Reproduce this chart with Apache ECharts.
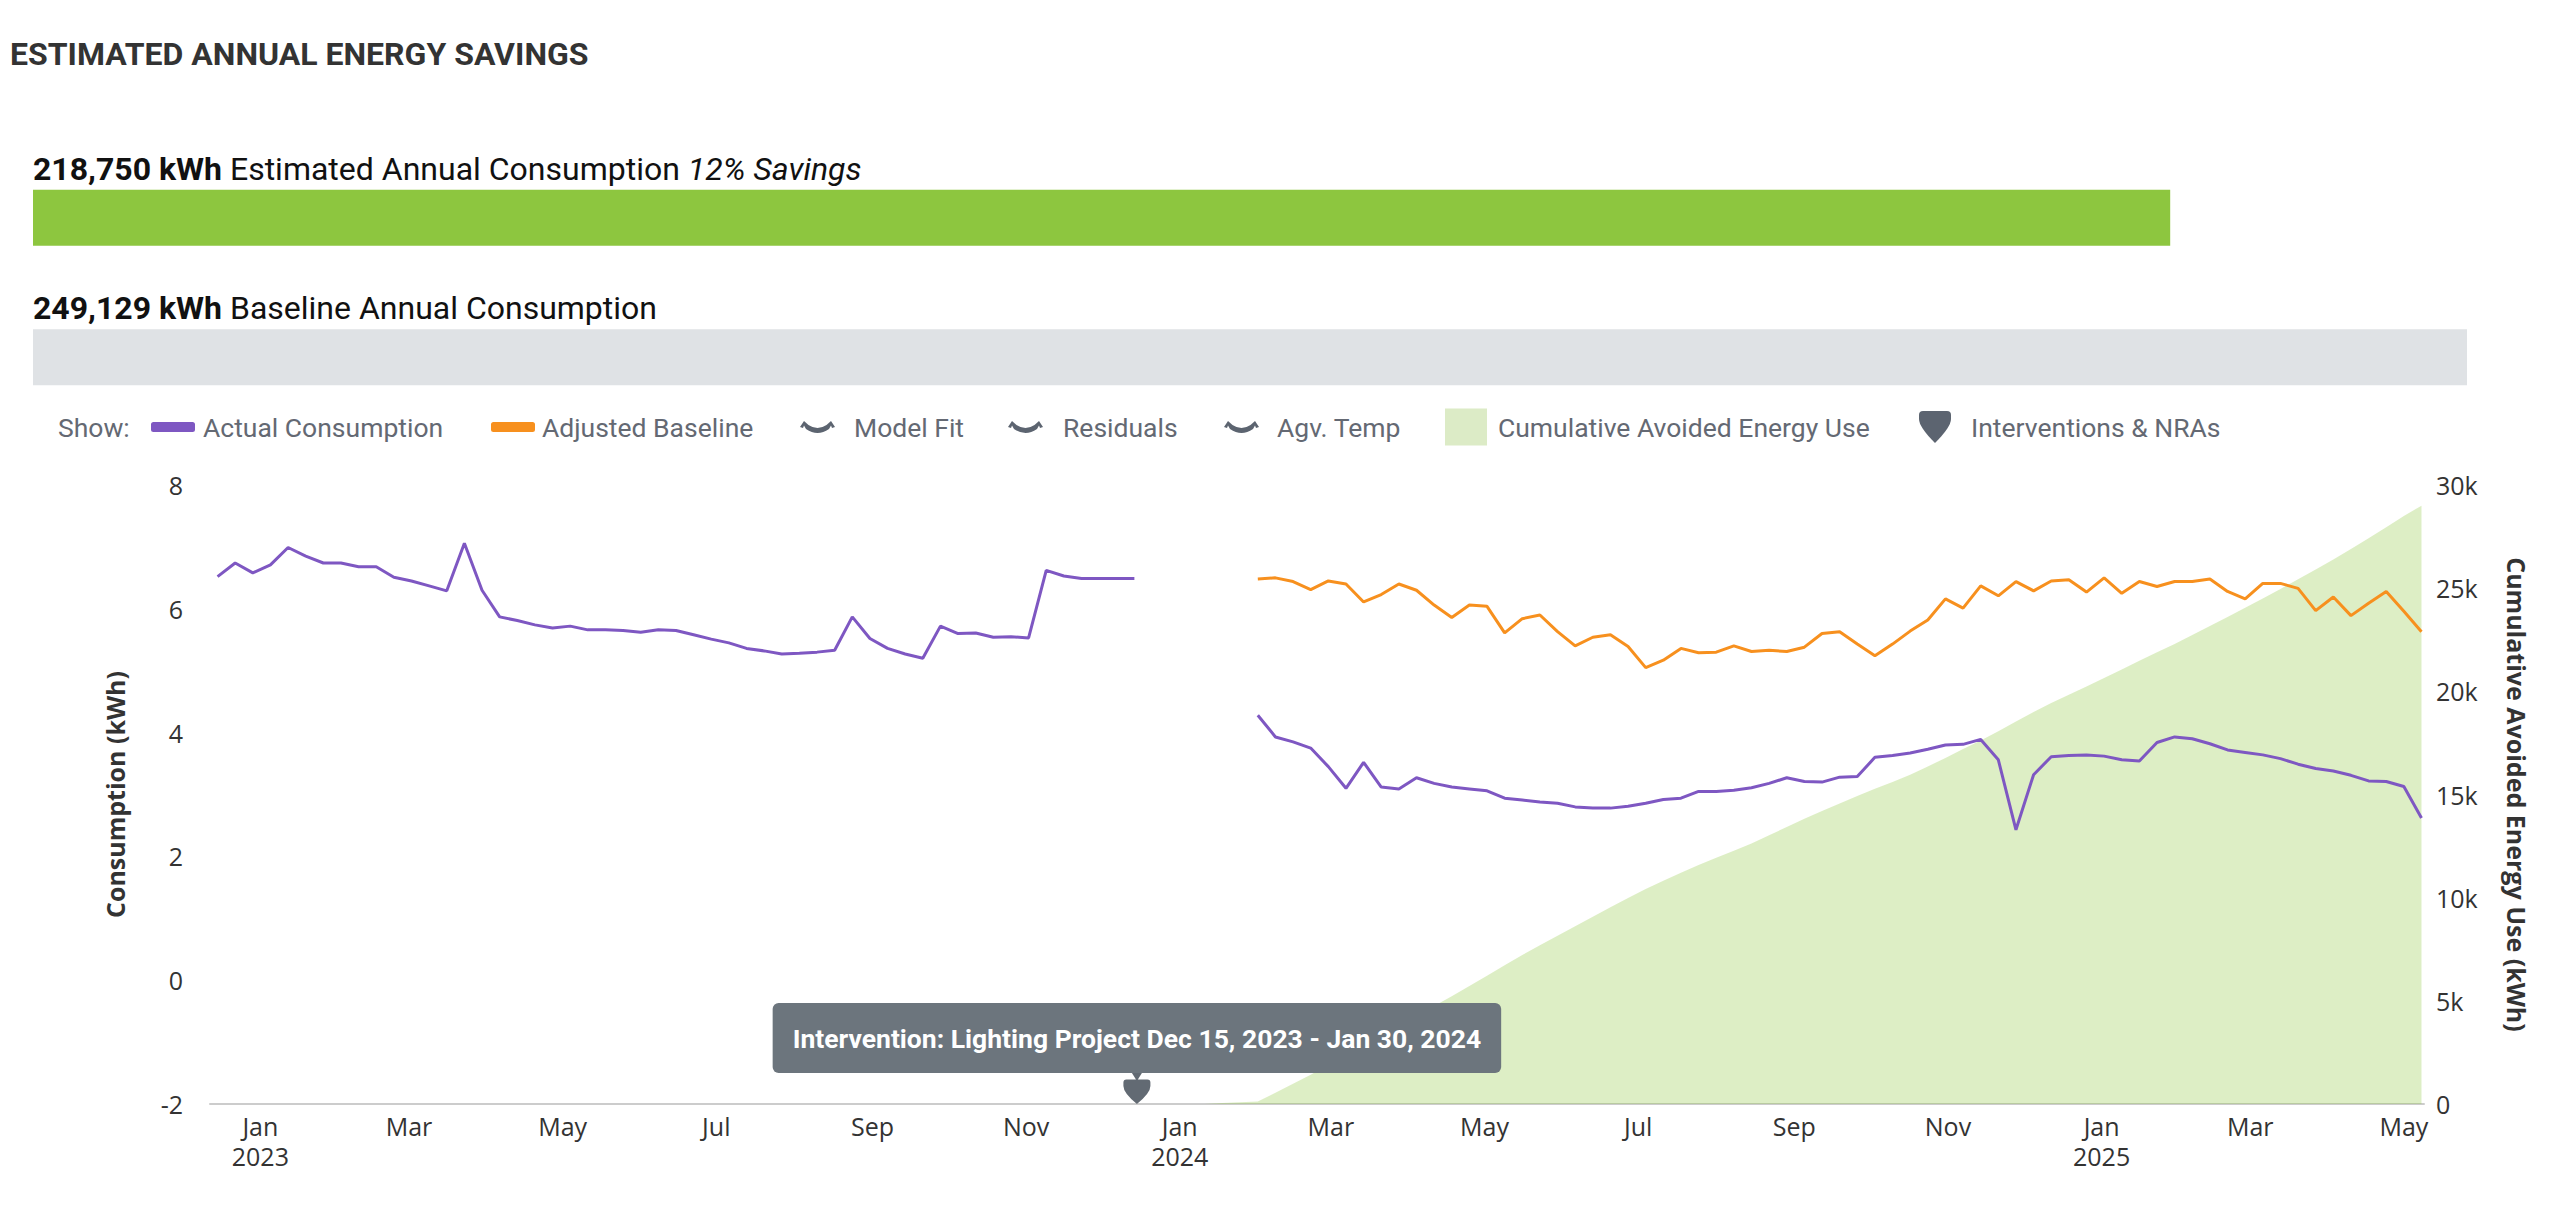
<!DOCTYPE html>
<html>
<head>
<meta charset="utf-8">
<script src="https://cdn.jsdelivr.net/npm/echarts@6/dist/echarts.min.js"></script>
<style>
html,body{margin:0;padding:0;background:#ffffff;}
#chart{width:2550px;height:1220px;}
</style>
</head>
<body>
<div id="chart"></div>
<script>
// ---------------- DATA ----------------
const estimatedAnnualKWh = 218750;
const baselineAnnualKWh = 249129;

// weekly readings (kWh), before the intervention, starting 2022-12-15
const actualBeforeStart = '2022-12-15';
const actualBefore = [
  6.52,6.74,6.58,6.71,6.99,6.85,6.74,6.74,6.68,6.68,
  6.51,6.45,6.37,6.29,7.06,6.30,5.87,5.81,5.74,5.69,
  5.72,5.66,5.66,5.65,5.62,5.66,5.65,5.58,5.51,5.45,
  5.36,5.32,5.27,5.28,5.30,5.33,5.87,5.52,5.36,5.27,
  5.20,5.72,5.60,5.61,5.54,5.55,5.53,6.62,6.53,6.49,
  6.49,6.49,6.49
];

// weekly readings after the intervention, starting 2024-02-01
const reportingStart = '2024-02-01';
const actualAfter = [
  4.28,3.93,3.85,3.75,3.45,3.10,3.52,3.12,3.09,3.27,
  3.18,3.12,3.09,3.06,2.94,2.91,2.88,2.86,2.80,2.78,
  2.78,2.81,2.86,2.92,2.94,3.05,3.05,3.07,3.11,3.18,
  3.27,3.21,3.20,3.28,3.29,3.60,3.63,3.67,3.73,3.80,
  3.81,3.89,3.56,2.43,3.32,3.61,3.63,3.64,3.62,3.56,
  3.54,3.84,3.93,3.90,3.82,3.72,3.68,3.64,3.58,3.49,
  3.42,3.38,3.31,3.22,3.21,3.13,2.62
];
const adjustedBaseline = [
  6.48,6.50,6.44,6.31,6.45,6.40,6.11,6.23,6.40,6.30,
  6.06,5.86,6.06,6.04,5.61,5.84,5.90,5.63,5.40,5.54,
  5.58,5.39,5.05,5.17,5.36,5.29,5.30,5.40,5.31,5.33,
  5.31,5.38,5.60,5.63,5.43,5.24,5.43,5.64,5.82,6.16,
  6.01,6.37,6.21,6.44,6.29,6.45,6.47,6.27,6.50,6.25,
  6.44,6.36,6.44,6.44,6.48,6.28,6.16,6.41,6.41,6.33,
  5.97,6.19,5.89,6.09,6.28,5.96,5.63
];

// cumulative avoided energy use (kWh), weekly from 2024-01-11
const cumulativeStart = '2024-01-11';
const cumulativeAvoided = [
  0,50,80,120,550,980,1420,1900,2370,2840,
  3330,3800,4270,4750,5220,5720,6220,6730,7220,7690,
  8150,8620,9080,9540,9980,10420,10820,11210,11580,11930,
  12270,12620,13020,13430,13830,14200,14560,14930,15280,15600,
  15960,16360,16770,17200,17620,18070,18540,19000,19430,19830,
  20240,20650,21060,21480,21900,22300,22730,23170,23600,24050,
  24500,24960,25430,25900,26390,26900,27420,27950,28500,29000
];

const interventionDate = '2023-12-15';
const interventionText = 'Intervention: Lighting Project Dec 15, 2023 - Jan 30, 2024';

const axisStart = '2022-12-12';
const axisEnd = '2025-05-09';
const monthTicks = ['2023-01-01','2023-03-01','2023-05-01','2023-07-01','2023-09-01','2023-11-01',
  '2024-01-01','2024-03-01','2024-05-01','2024-07-01','2024-09-01','2024-11-01',
  '2025-01-01','2025-03-01','2025-05-01'];
const monthNames = ['Jan','Feb','Mar','Apr','May','Jun','Jul','Aug','Sep','Oct','Nov','Dec'];
const consumptionTicks = [-2, 8, 2];      // min, max, step
const cumulativeTicks = [0, 30000, 5000]; // min, max, step

// ---------------- BUILD ----------------
const DAY = 86400000;
const ts = s => new Date(s + 'T00:00:00Z').getTime();
const weekly = (start, arr) => arr.map((v, i) => [ts(start) + i * 7 * DAY, v]);

const actualSeriesData = weekly(actualBeforeStart, actualBefore)
  .concat([[ts(actualBeforeStart) + actualBefore.length * 7 * DAY, null]])
  .concat(weekly(reportingStart, actualAfter));

const savingsPct = Math.round((1 - estimatedAnnualKWh / baselineAnnualKWh) * 100);
const fmt = n => n.toLocaleString('en-US');

const PURPLE = '#7e57c2';
const ORANGE = '#f7901e';
const GREEN_BAR = '#8dc63f';
const AREA = 'rgba(141,198,63,0.3)';
const GRAY_ICON = '#5c6470';
const TEXT_GRAY = '#646973';
const lashes = 'path://M0 6 L4 0 L8.5 4 Q17.5 10 26.5 4 L31 0 L35 6 L32 7 L31 4.5 L29 8 Q17.5 16 6 8 L4 4.5 L3 7 Z';
const shield = 'path://M4 0 L28 0 Q32 0 32 4 L32 8 Q32 16 16 32 Q0 16 0 8 L0 4 Q0 0 4 0 Z';
const pin = 'path://M8.5 0 L18.5 0 L13.5 8 Z M3 6.5 L24 6.5 Q27 6.5 27 9.5 L27 13 Q27 20 13.5 31 Q0 20 0 13 L0 9.5 Q0 6.5 3 6.5 Z';

const legendText = {fontFamily: 'Roboto', fontSize: 26.5, color: TEXT_GRAY, lineHeight: 40};
function legend(name, left, w, h, icon, color, pad) {
  return {
    left: left, top: 407, padding: 0, itemGap: 0, selectedMode: false,
    itemWidth: w, itemHeight: h,
    itemStyle: {borderWidth: 0},
    textStyle: Object.assign({}, legendText, {padding: [0, 0, 0, pad]}),
    data: [{name: name, icon: icon, itemStyle: {color: color, borderWidth: 0}}]
  };
}

const labelFont = {fontFamily: 'Open Sans', fontSize: 25, color: '#333333'};
const nameFont = {fontFamily: 'Open Sans', fontSize: 25, fontWeight: 'bold', color: '#333333'};

const option = {
  backgroundColor: '#ffffff',
  animation: false,
  title: {
    text: 'ESTIMATED ANNUAL ENERGY SAVINGS',
    left: 10, top: 36, padding: 0,
    textStyle: {fontFamily: 'Roboto', fontSize: 32, fontWeight: 'bold', color: '#333333', lineHeight: 36}
  },
  graphic: [{
    type: 'text', x: 58, y: 427,
    style: {text: 'Show:', fontFamily: 'Roboto', fontSize: 26.5, fill: TEXT_GRAY, verticalAlign: 'middle'}
  }],
  legend: [
    legend('Actual Consumption', 151, 44, 10, 'roundRect', PURPLE, 3),
    legend('Adjusted Baseline', 491, 44, 10, 'roundRect', ORANGE, 2),
    legend('Model Fit', 800, 35, 12, lashes, GRAY_ICON, 14),
    legend('Residuals', 1008, 35, 12, lashes, GRAY_ICON, 15),
    legend('Agv. Temp', 1224, 35, 12, lashes, GRAY_ICON, 13),
    legend('Cumulative Avoided Energy Use', 1445, 42, 37, 'rect', '#dcebc6', 6),
    legend('Interventions & NRAs', 1919, 32, 32, shield, GRAY_ICON, 15)
  ],
  grid: [
    {left: 210, right: 126, top: 485, bottom: 116},
    {left: 33, right: 83, top: 148, height: 279}
  ],
  xAxis: [{
    type: 'value', gridIndex: 0,
    min: ts(axisStart), max: ts(axisEnd),
    splitLine: {show: false},
    axisTick: {show: false},
    axisLine: {show: true, onZero: false, lineStyle: {color: '#cccccc', width: 2}},
    axisLabel: Object.assign({}, labelFont, {
      margin: 7, lineHeight: 30,
      customValues: monthTicks.map(ts),
      formatter: function (v) {
        const d = new Date(v);
        const m = d.getUTCMonth();
        return m === 0 ? monthNames[m] + '\n' + d.getUTCFullYear() : monthNames[m];
      }
    })
  }, {
    type: 'value', gridIndex: 1, min: 0, max: baselineAnnualKWh, show: false
  }],
  yAxis: [{
    type: 'value', gridIndex: 0, position: 'left',
    min: consumptionTicks[0], max: consumptionTicks[1], interval: consumptionTicks[2],
    splitLine: {show: false}, axisTick: {show: false}, axisLine: {show: false},
    axisLabel: Object.assign({}, labelFont, {margin: 27}),
    name: 'Consumption (kWh)', nameLocation: 'middle', nameGap: 83, nameRotate: 90,
    nameTextStyle: nameFont
  }, {
    type: 'value', gridIndex: 0, position: 'right',
    min: cumulativeTicks[0], max: cumulativeTicks[1], interval: cumulativeTicks[2],
    splitLine: {show: false}, axisTick: {show: false}, axisLine: {show: false},
    axisLabel: Object.assign({}, labelFont, {margin: 12, formatter: v => v === 0 ? '0' : (v / 1000) + 'k'}),
    name: 'Cumulative Avoided Energy Use (kWh)', nameLocation: 'middle', nameGap: 80, nameRotate: -90,
    nameTextStyle: nameFont
  }, {
    type: 'category', gridIndex: 1, inverse: true, show: false,
    data: ['Estimated', 'Baseline']
  }],
  series: [
    {
      type: 'bar', name: 'annual', xAxisIndex: 1, yAxisIndex: 2, barWidth: 56, silent: true,
      data: [
        {value: estimatedAnnualKWh, itemStyle: {color: GREEN_BAR},
         label: {formatter: '{b|' + fmt(estimatedAnnualKWh) + ' kWh} Estimated Annual Consumption {i|' + savingsPct + '% Savings}'}},
        {value: baselineAnnualKWh, itemStyle: {color: '#dfe2e5'},
         label: {formatter: '{b|' + fmt(baselineAnnualKWh) + ' kWh} Baseline Annual Consumption'}}
      ],
      label: {
        show: true, position: [0, -21], align: 'left', verticalAlign: 'middle',
        fontFamily: 'Roboto', fontSize: 32, color: '#111111',
        rich: {
          b: {fontFamily: 'Roboto', fontSize: 32, fontWeight: 'bold', color: '#111111'},
          i: {fontFamily: 'Roboto', fontSize: 32, fontStyle: 'italic', color: '#111111'}
        }
      }
    },
    {
      type: 'line', name: 'Actual Consumption', xAxisIndex: 0, yAxisIndex: 0,
      data: actualSeriesData, showSymbol: false, symbol: 'none', connectNulls: false,
      color: PURPLE, lineStyle: {color: PURPLE, width: 3}
    },
    {
      type: 'line', name: 'Adjusted Baseline', xAxisIndex: 0, yAxisIndex: 0,
      data: weekly(reportingStart, adjustedBaseline), showSymbol: false, symbol: 'none',
      color: ORANGE, lineStyle: {color: ORANGE, width: 3}
    },
    {type: 'line', name: 'Model Fit', xAxisIndex: 0, yAxisIndex: 0, data: [], color: GRAY_ICON},
    {type: 'line', name: 'Residuals', xAxisIndex: 0, yAxisIndex: 0, data: [], color: GRAY_ICON},
    {type: 'line', name: 'Agv. Temp', xAxisIndex: 0, yAxisIndex: 0, data: [], color: GRAY_ICON},
    {
      type: 'line', name: 'Cumulative Avoided Energy Use', xAxisIndex: 0, yAxisIndex: 1,
      data: weekly(cumulativeStart, cumulativeAvoided), showSymbol: false, symbol: 'none',
      color: '#dcebc6', lineStyle: {width: 0, opacity: 0},
      areaStyle: {color: AREA, opacity: 1}, z: 3
    },
    {
      type: 'scatter', name: 'Interventions & NRAs', xAxisIndex: 0, yAxisIndex: 0, clip: false,
      data: [[ts(interventionDate), consumptionTicks[0]]],
      symbol: pin, symbolSize: [27, 31], symbolOffset: [0, '-50%'],
      itemStyle: {color: '#626a73', opacity: 1}, z: 10,
      label: {
        show: true, position: 'top', distance: 0,
        formatter: interventionText,
        backgroundColor: '#6c757d', color: '#ffffff', opacity: 1,
        fontFamily: 'Roboto', fontWeight: 'bold', fontSize: 26.5, lineHeight: 26,
        padding: [22, 20], borderRadius: 6
      }
    }
  ]
};

const chart = echarts.init(document.getElementById('chart'), null, {renderer: 'svg'});
chart.setOption(option);
</script>
</body>
</html>
